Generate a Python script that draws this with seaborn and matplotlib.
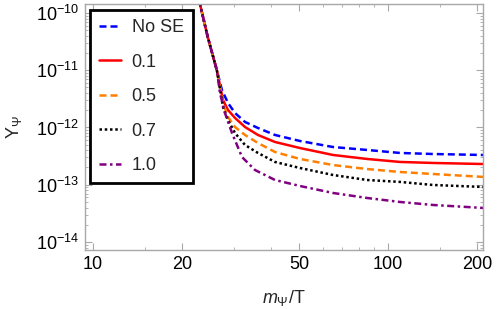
import numpy as np
import pandas as pd
import matplotlib
matplotlib.use('Agg')
import matplotlib.pyplot as plt
import seaborn as sns
from matplotlib.ticker import FixedLocator, NullFormatter


# ===================================
# Data (m_psi/T, Y_psi)
# ===================================
# steep part shared by every curve
X_TRUNK = [22.6, 23.05, 24.5, 26.3]
Y_TRUNK = [2.06e-10, 1.44e-10, 3.8e-11, 1.0e-11]

X_NOSE = [27.37, 28.69, 30.30, 32.76, 36.25, 41.40, 50.30, 65.09, 84.88, 109.8, 142.1, 210]
Y_NOSE = [4.52e-12, 2.68e-12, 1.79e-12, 1.25e-12, 9.80e-13, 7.40e-13, 5.81e-13,
          4.56e-13, 4.05e-13, 3.59e-13, 3.44e-13, 3.31e-13]

X_01 = [27.59, 28.69, 30.30, 32.76, 36.25, 41.40, 50.30, 65.09, 84.88, 109.8, 142.1, 210]
Y_01 = [3.02e-12, 2.02e-12, 1.47e-12, 1.02e-12, 7.40e-13, 5.58e-13, 4.38e-13,
        3.31e-13, 2.82e-13, 2.50e-13, 2.40e-13, 2.30e-13]

X_05 = [27.59, 28.69, 30.30, 32.76, 36.25, 41.40, 50.30, 65.09, 84.88, 109.8, 142.1, 210]
Y_05 = [2.68e-12, 1.53e-12, 1.02e-12, 7.40e-13, 5.36e-13, 3.73e-13, 2.82e-13,
        2.21e-13, 1.88e-13, 1.67e-13, 1.54e-13, 1.37e-13]

X_07 = [27.59, 28.69, 30.30, 32.76, 36.25, 41.40, 50.30, 65.09, 84.88, 109.8, 142.1, 210]
Y_07 = [2.28e-12, 1.35e-12, 8.01e-13, 4.95e-13, 3.59e-13, 2.50e-13, 1.96e-13,
        1.48e-13, 1.21e-13, 1.12e-13, 9.90e-14, 9.14e-14]

X_10 = [26.95, 28.02, 29.60, 32.00, 35.41, 41.40, 50.30, 65.09, 84.88, 109.8, 142.1, 210]
Y_10 = [4.00e-12, 1.79e-12, 8.01e-13, 3.05e-13, 1.81e-13, 1.21e-13, 9.51e-14,
        7.18e-14, 5.87e-14, 5.00e-14, 4.43e-14, 3.93e-14]

LABELS = ['No SE', '0.1', '0.5', '0.7', '1.0']
COLORS = ['#0000ff', '#ff0000', '#ff8000', '#000000', '#800080']

X_TICKS = [10, 20, 50, 100, 200]
X_MINOR = [15, 30, 40, 60, 70, 80, 90, 150]
Y_TICKS = [1e-14, 1e-13, 1e-12, 1e-11, 1e-10]
Y_TICKLABELS = [r'$10^{-14}$', r'$10^{-13}$', r'$10^{-12}$', r'$10^{-11}$', r'$10^{-10}$']


# ===================================
# Style
# ===================================
sns.set_theme(style='ticks')
plt.rcParams['font.family'] = ['Liberation Sans', 'DejaVu Sans']
plt.rcParams['mathtext.fontset'] = 'custom'
plt.rcParams['mathtext.rm'] = 'Liberation Sans'
plt.rcParams['mathtext.it'] = 'Liberation Sans:italic'

FRAME = '#a8a8a8'
LW = 1.8

series = [(X_NOSE, Y_NOSE), (X_01, Y_01), (X_05, Y_05), (X_07, Y_07), (X_10, Y_10)]
styles = [
    (0, (2.8, 1.6)),
    '-',
    (0, (2.8, 1.6)),
    (0, (1.0, 1.1)),
    (0, (2.8, 1.4, 1.0, 1.4)),
]

fig = plt.figure(figsize=(4.98, 3.09), dpi=100)
ax = fig.add_axes([85 / 498, 1 - 250 / 309, 398 / 498, 246 / 309])

for (xs, ys), lab, col, ls in zip(series, LABELS, COLORS, styles):
    df = pd.DataFrame({'x': X_TRUNK + xs, 'y': Y_TRUNK + ys})
    sns.lineplot(data=df, x='x', y='y', ax=ax, color=col, lw=LW,
                 sort=False, estimator=None, label=lab, linestyle=ls)

ax.set_xscale('log')
ax.set_yscale('log')
ax.set_xlim(9.40, 209.9)
ax.set_ylim(7.24e-15, 1.436e-10)

# ticks, Mathematica style
ax.xaxis.set_major_locator(FixedLocator(X_TICKS))
ax.xaxis.set_minor_locator(FixedLocator(X_MINOR))
ax.set_xticklabels([str(t) for t in X_TICKS])
ax.xaxis.set_minor_formatter(NullFormatter())

y_minor = [m * 10.0 ** e for e in range(-15, -10) for m in range(2, 10)]
ax.yaxis.set_major_locator(FixedLocator(Y_TICKS))
ax.yaxis.set_minor_locator(FixedLocator(y_minor))
ax.set_yticklabels(Y_TICKLABELS)
ax.yaxis.set_minor_formatter(NullFormatter())

ax.tick_params(which='both', direction='in', top=True, right=True,
               color=FRAME, labelsize=13, labelcolor='black', pad=4)
ax.tick_params(which='major', length=5, width=0.8)
ax.tick_params(which='minor', length=2.5, width=0.6)
for sp in ax.spines.values():
    sp.set_color(FRAME)
    sp.set_linewidth(1.0)

ax.set_xlabel(r'$m_{\Psi}$/T', fontsize=13, labelpad=11)
ax.set_ylabel(r'$\mathrm{Y}_{\Psi}$', fontsize=13, labelpad=9)

leg = ax.legend(loc='upper left', bbox_to_anchor=(0.0126, 0.9756), borderaxespad=0,
                fontsize=13, frameon=True, fancybox=False, handlelength=1.2,
                handletextpad=0.6, labelspacing=0.97, borderpad=0.5)
leg.get_frame().set_edgecolor('black')
leg.get_frame().set_linewidth(2.0)
leg.get_frame().set_alpha(1)

fig.savefig('out.png', dpi=100)
plt.close(fig)
